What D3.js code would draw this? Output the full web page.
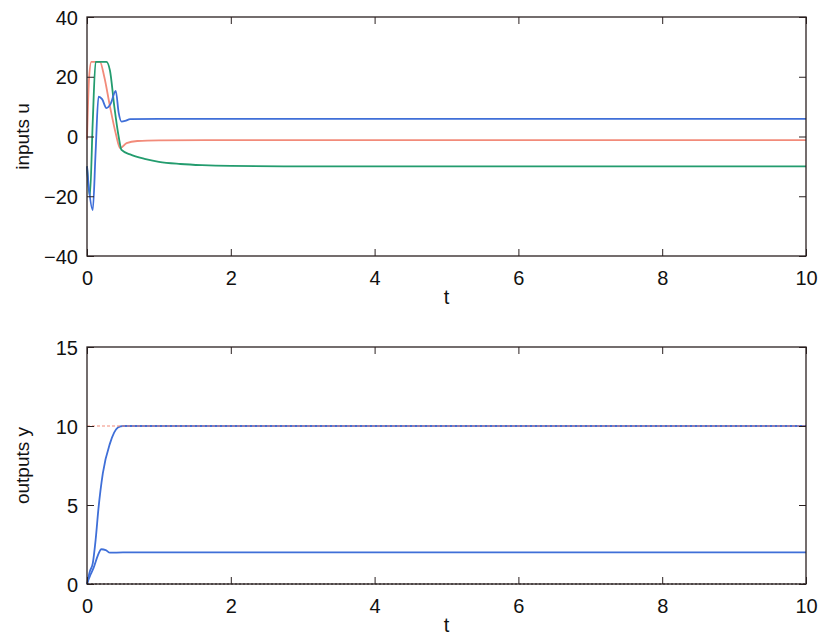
<!DOCTYPE html>
<html><head><meta charset="utf-8">
<script src="https://cdn.jsdelivr.net/npm/d3@7"></script>
<style>
html,body{margin:0;padding:0;background:#fff;}
text{font-family:"Liberation Sans",Arial,Helvetica,sans-serif;fill:#111;}
</style></head>
<body><svg id="c" width="819" height="639"></svg>
<script>
// ---- data ----
const xTicks = [0, 2, 4, 6, 8, 10];
const uTicks = [-40, -20, 0, 20, 40];
const yTicks = [0, 5, 10, 15];

// inputs u
const u1T = [0, 0.03, 0.08, 0.12, 0.16, 0.21, 0.27, 0.33, 0.40, 0.44, 0.48, 0.53, 0.6, 1, 2, 10];
const u1V = [-10, -18, -24.6, -5, 13.3, 12.5, 9.5, 11, 15.3, 8, 5, 5.2, 5.8, 5.9, 5.9, 5.9];
const u2T = [0, 0.03, 0.06, 0.18, 0.24, 0.32, 0.40, 0.46, 0.55, 0.7, 1, 2, 10];
const u2V = [-1, 20, 25, 25, 20, 10, 1, -3.9, -2.2, -1.5, -1.3, -1.2, -1.2];
const u3T = [0, 0.04, 0.08, 0.12, 0.27, 0.32, 0.38, 0.44, 0.48, 0.6, 0.8, 1.0, 1.3, 1.6, 2.0, 3, 10];
const u3V = [-10, -20, 5, 25, 25, 22, 10, 0, -4.5, -6, -7.5, -8.5, -9.2, -9.6, -9.85, -10, -10];

// outputs y
const y1T = [0, 0.04, 0.08, 0.12, 0.16, 0.22, 0.32, 0.43, 0.5, 10];
const y1V = [0, 0.8, 1.3, 2.8, 4.8, 7.0, 8.9, 9.9, 10, 10];
const y2T = [0, 0.05, 0.09, 0.15, 0.2, 0.26, 0.32, 0.5, 10];
const y2V = [0, 0.6, 1.0, 1.8, 2.2, 2.15, 1.98, 2, 2];
const r1T = [0, 10], r1V = [10, 10];
const r2T = [0, 10], r2V = [0, 0];

const blue = "#3f6fd8", red = "#f28b7a", green = "#239c6e", frame = "#2a2020";

const svg = d3.select("#c");
const L = 87, R = 806;

function panel(top, bottom, ydom, yticks, ylabel, series, refs) {
  const x = d3.scaleLinear().domain([0, 10]).range([L, R]);
  const y = d3.scaleLinear().domain(ydom).range([bottom, top]);
  const g = svg.append("g");
  const line = d3.line().x(d => x(d[0])).y(d => y(d[1])).curve(d3.curveMonotoneX);

  series.forEach(s => {
    g.append("path").datum(d3.zip(s.t, s.v)).attr("d", line)
      .attr("fill", "none").attr("stroke", s.color).attr("stroke-width", 1.8);
  });
  refs.forEach(s => {
    g.append("path").datum(d3.zip(s.t, s.v)).attr("d", line)
      .attr("fill", "none").attr("stroke", s.color).attr("stroke-width", 1.2)
      .attr("stroke-dasharray", s.dash);
  });

  // axes with inward ticks
  const ax = g.append("g").attr("transform", `translate(0,${bottom})`)
    .call(d3.axisBottom(x).tickValues(xTicks).tickSize(-7).tickPadding(15).tickFormat(d3.format("d")));
  const ax2 = g.append("g").attr("transform", `translate(0,${top})`)
    .call(d3.axisTop(x).tickValues(xTicks).tickSize(-7).tickFormat(""));
  const ay = g.append("g").attr("transform", `translate(${L},0)`)
    .call(d3.axisLeft(y).tickValues(yticks).tickSize(-7).tickPadding(9).tickFormat(d3.format("d")));
  const ay2 = g.append("g").attr("transform", `translate(${R},0)`)
    .call(d3.axisRight(y).tickValues(yticks).tickSize(-7).tickFormat(""));
  [ax, ax2, ay, ay2].forEach(a => {
    a.select(".domain").remove();
    a.selectAll(".tick line").attr("stroke", frame).attr("stroke-width", 1);
    a.selectAll("text").style("font-size", "20px").attr("fill", "#111");
  });
  ay.selectAll(".tick text").attr("dy", "0.35em");
  g.append("rect").attr("x", L).attr("y", top).attr("width", R - L).attr("height", bottom - top)
    .attr("fill", "none").attr("stroke", frame).attr("stroke-width", 1.3);

  g.append("text").attr("x", x(5)).attr("y", bottom + 48).attr("text-anchor", "middle")
    .style("font-size", "20px").text("t");
  g.append("text").attr("transform", `translate(29,${(top + bottom) / 2}) rotate(-90)`)
    .attr("text-anchor", "middle").style("font-size", "19px").text(ylabel);
}

panel(17, 256, [-40, 40], uTicks, "inputs u",
  [{t: u2T, v: u2V, color: red}, {t: u3T, v: u3V, color: green}, {t: u1T, v: u1V, color: blue}], []);

panel(347, 584, [0, 15], yTicks, "outputs y",
  [{t: y1T, v: y1V, color: blue}, {t: y2T, v: y2V, color: blue}],
  [{t: r1T, v: r1V, color: red, dash: "3,2"}, {t: r2T, v: r2V, color: "#222", dash: "2,2"}]);
</script></body></html>
